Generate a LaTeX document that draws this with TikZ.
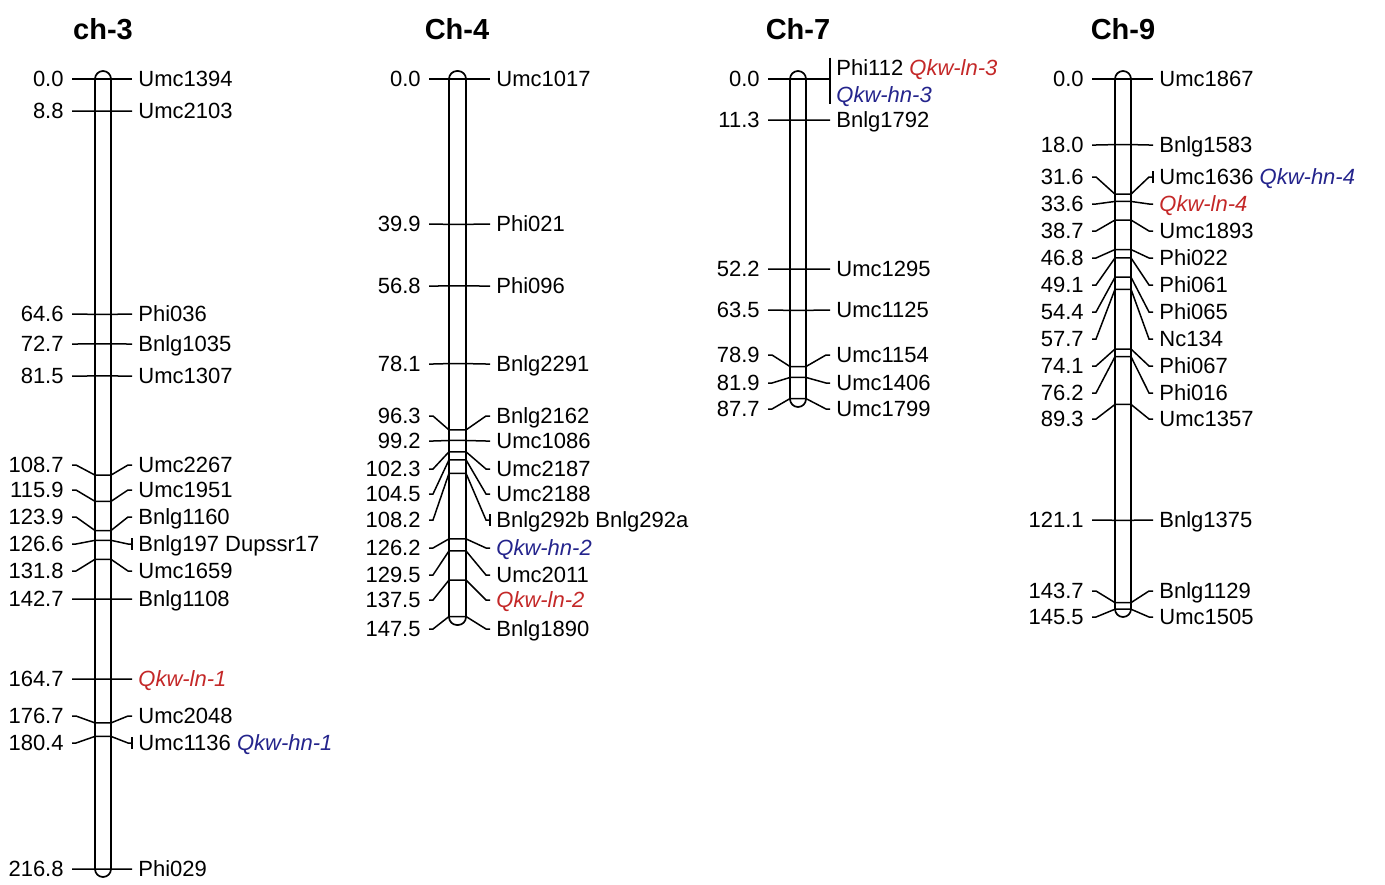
\documentclass[tikz,border=0pt]{standalone}
\usepackage{fontspec}
\setmainfont{Liberation Sans}
\usepackage{xcolor}
\usepackage{tikz}
\usetikzlibrary{positioning,calc}
\definecolor{qtlred}{RGB}{196,40,40}
\definecolor{qtlblue}{RGB}{36,36,140}
\tikzset{
  chrbar/.style={draw=black, line width=0.85pt, rounded corners=4pt},
  link/.style={draw=black, line width=0.75pt},
  locnum/.style={anchor=east, inner xsep=4pt, inner ysep=0pt,
    text height=7.9pt, text depth=0pt},
  locname/.style={anchor=west, inner xsep=3pt, inner ysep=0pt,
    text height=7.9pt, text depth=0pt},
  chtitle/.style={font=\bfseries\fontsize{14.5}{17}\selectfont},
}

\begin{document}
\begin{tikzpicture}[x=0.5pt, y=-0.5pt, font=\fontsize{11}{13.5}\selectfont]
  \fill[white] (0,0) rectangle (1385,884);

  % ch-3
  \node[chtitle] (t3) at (103,29) {ch-3};
  \draw[chrbar] (95,71) rectangle (111,877);
  \foreach \cm/\ly/\mk [count=\i] in {0.0/79/Umc1394, 8.8/111/Umc2103,
      64.6/314/Phi036, 72.7/344/Bnlg1035, 81.5/376/Umc1307,
      108.7/465/Umc2267, 115.9/490/Umc1951, 123.9/517/Bnlg1160,
      126.6/544/Bnlg197 Dupssr17, 131.8/571/Umc1659, 142.7/599/Bnlg1108,
      164.7/679/{\color{qtlred}\itshape Qkw-ln-1}, 176.7/716/Umc2048,
      180.4/743/{Umc1136 {\color{qtlblue}\itshape Qkw-hn-1}}, 216.8/869/Phi029}{
    \coordinate (c3l\i) at (95,{79+3.644*\cm});
    \coordinate (c3r\i) at (111,{79+3.644*\cm});
    \node[locnum] (c3n\i) at (72,\ly) {\cm};
    \node[locname] (c3m\i) at (132,\ly) {\mk};
    \draw[link] (c3n\i.east) -- ++(4,0) -- (c3l\i) -- (c3r\i)
      -- ([xshift=-2pt]c3m\i.west) -- (c3m\i.west);
  }
  \draw[link] ([yshift=3pt]c3m9.west) -- ([yshift=-3pt]c3m9.west);
  \draw[link] ([yshift=3pt]c3m14.west) -- ([yshift=-3pt]c3m14.west);

  % Ch-4
  \node[chtitle] (t4) at (457,29) {Ch-4};
  \draw[chrbar] (449,71) rectangle (466,625);
  \foreach \cm/\ly/\mk [count=\i] in {0.0/79/Umc1017, 39.9/224/Phi021,
      56.8/286/Phi096, 78.1/364/Bnlg2291, 96.3/416/Bnlg2162,
      99.2/441/Umc1086, 102.3/469/Umc2187, 104.5/494/Umc2188,
      108.2/520/Bnlg292b Bnlg292a, 126.2/548/{\color{qtlblue}\itshape Qkw-hn-2},
      129.5/575/Umc2011, 137.5/600/{\color{qtlred}\itshape Qkw-ln-2},
      147.5/629/Bnlg1890}{
    \coordinate (c4l\i) at (449,{79+3.644*\cm});
    \coordinate (c4r\i) at (466,{79+3.644*\cm});
    \node[locnum] (c4n\i) at (429,\ly) {\cm};
    \node[locname] (c4m\i) at (490,\ly) {\mk};
    \draw[link] (c4n\i.east) -- ++(4,0) -- (c4l\i) -- (c4r\i)
      -- ([xshift=-2pt]c4m\i.west) -- (c4m\i.west);
  }
  \draw[link] ([yshift=3pt]c4m9.west) -- ([yshift=-3pt]c4m9.west);

  % Ch-7
  \node[chtitle] (t7) at (798,29) {Ch-7};
  \draw[chrbar] (790,71) rectangle (806,407);
  \coordinate (c7l1) at (790,79);
  \coordinate (c7r1) at (806,79);
  \node[locnum] (c7n1) at (768,79) {0.0};
  \node[locname] (c7m1) at (830,68) {Phi112 {\color{qtlred}\itshape Qkw-ln-3}};
  \node[locname] (c7h1) at (830,95) {\color{qtlblue}\itshape Qkw-hn-3};
  \draw[link] (c7n1.east) -- ++(4,0) -- (c7l1) -- (c7r1) -- (c7m1.west |- c7r1);
  \draw[link] ([yshift=1pt]c7m1.north west) -- ([yshift=-0.5pt]c7h1.south west);
  \foreach \cm/\ly/\mk [count=\i from 2] in {11.3/120/Bnlg1792,
      52.2/269/Umc1295, 63.5/310/Umc1125, 78.9/355/Umc1154,
      81.9/383/Umc1406, 87.7/409/Umc1799}{
    \coordinate (c7l\i) at (790,{79+3.644*\cm});
    \coordinate (c7r\i) at (806,{79+3.644*\cm});
    \node[locnum] (c7n\i) at (768,\ly) {\cm};
    \node[locname] (c7m\i) at (830,\ly) {\mk};
    \draw[link] (c7n\i.east) -- ++(4,0) -- (c7l\i) -- (c7r\i)
      -- ([xshift=-2pt]c7m\i.west) -- (c7m\i.west);
  }

  % Ch-9
  \node[chtitle] (t9) at (1123,29) {Ch-9};
  \draw[chrbar] (1115,71) rectangle (1131,617);
  \foreach \cm/\ly/\mk [count=\i] in {0.0/79/Umc1867, 18.0/145/Bnlg1583,
      31.6/177/{Umc1636 {\color{qtlblue}\itshape Qkw-hn-4}},
      33.6/204/{\color{qtlred}\itshape Qkw-ln-4}, 38.7/231/Umc1893,
      46.8/258/Phi022, 49.1/285/Phi061, 54.4/312/Phi065, 57.7/339/Nc134,
      74.1/366/Phi067, 76.2/393/Phi016, 89.3/419/Umc1357,
      121.1/520/Bnlg1375, 143.7/591/Bnlg1129, 145.5/617/Umc1505}{
    \coordinate (c9l\i) at (1115,{79+3.644*\cm});
    \coordinate (c9r\i) at (1131,{79+3.644*\cm});
    \node[locnum] (c9n\i) at (1092,\ly) {\cm};
    \node[locname] (c9m\i) at (1153,\ly) {\mk};
    \draw[link] (c9n\i.east) -- ++(4,0) -- (c9l\i) -- (c9r\i)
      -- ([xshift=-2pt]c9m\i.west) -- (c9m\i.west);
  }
  \draw[link] ([yshift=3pt]c9m3.west) -- ([yshift=-3pt]c9m3.west);
\end{tikzpicture}
\end{document}
